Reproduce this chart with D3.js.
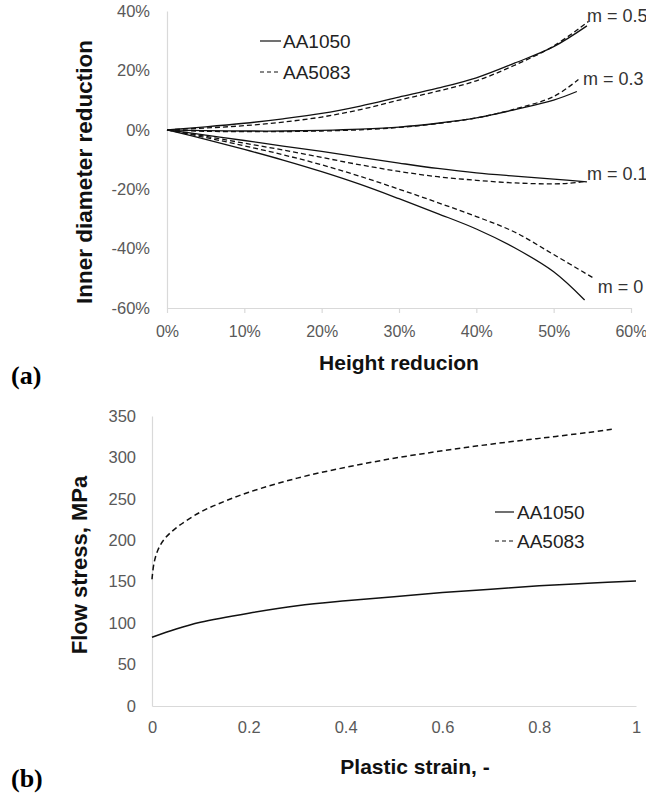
<!DOCTYPE html>
<html><head><meta charset="utf-8">
<script src="https://cdn.jsdelivr.net/npm/d3@7"></script>
<style>body{margin:0;background:#fff} svg{display:block}</style>
</head><body><svg id="c" width="646" height="801"></svg>
<script>
// ---------- Panel (a): inner diameter reduction vs height reduction (%) ----------
const xTicksA = [0, 10, 20, 30, 40, 50, 60];
const yTicksA = [-60, -40, -20, 0, 20, 40];
const hrBase = [0, 5, 10, 15, 20, 25, 30, 35, 40, 45, 50];

const m05_1050_x = [...hrBase, 54.3];
const m05_1050_y = [0, 1.0, 2.2, 3.7, 5.5, 8.0, 11.0, 14.0, 17.5, 22.5, 28.0, 35.0];
const m05_5083_x = [...hrBase, 54.5];
const m05_5083_y = [0, 0.6, 1.4, 2.6, 4.3, 6.8, 10.0, 13.0, 16.5, 21.8, 28.2, 36.5];
const m03_1050_x = [...hrBase, 53.0];
const m03_1050_y = [0, -0.3, -0.4, -0.4, -0.2, 0.2, 0.9, 2.2, 4.0, 6.8, 10.0, 12.9];
const m03_5083_x = [...hrBase, 53.2];
const m03_5083_y = [0, -0.5, -0.6, -0.6, -0.4, 0.0, 0.8, 2.1, 4.0, 7.0, 11.2, 16.9];
const m01_1050_x = [...hrBase, 54.3];
const m01_1050_y = [0, -1.8, -3.6, -5.5, -7.3, -9.3, -11.2, -13.0, -14.5, -15.6, -16.6, -17.5];
const m01_5083_x = [...hrBase, 52, 54.0];
const m01_5083_y = [0, -2.2, -4.5, -6.8, -9.3, -11.8, -14.0, -15.8, -17.0, -17.9, -18.2, -18.0, -17.4];
const m0_1050_x = [...hrBase, 54.0];
const m0_1050_y = [0, -3.2, -6.6, -10.2, -14.1, -18.4, -23.2, -28.2, -33.4, -39.8, -47.8, -57.3];
const m0_5083_x = [...hrBase, 55.2];
const m0_5083_y = [0, -2.6, -5.4, -8.4, -11.8, -15.7, -20.0, -24.5, -29.2, -34.5, -42.0, -50.0];

const mLabels = ["m = 0.5", "m = 0.3", "m = 0.1", "m = 0"];
const mLabelX = [54.3, 53.8, 54.3, 55.7];     // in data units (%)
const mLabelY = [36.4, 15.2, -16.9, -54.9];

// ---------- Panel (b): flow stress vs plastic strain ----------
const xTicksB = [0, 0.2, 0.4, 0.6, 0.8, 1];
const yTicksB = [0, 50, 100, 150, 200, 250, 300, 350];
const strain1050 = [0, 0.05, 0.1, 0.2, 0.3, 0.4, 0.5, 0.6, 0.7, 0.8, 0.9, 1.0];
const stress1050 = [83, 93, 101, 112, 121, 127, 132, 137, 141, 145, 148, 151];
const strain5083 = [0, 0.004, 0.012, 0.025, 0.05, 0.1, 0.15, 0.2, 0.3, 0.4, 0.5, 0.6, 0.7, 0.8, 0.9, 0.95];
const stress5083 = [153, 172, 188, 201, 215, 234, 247, 258, 275, 288, 299, 308, 316, 323, 330, 334];

const seriesNames = ["AA1050", "AA5083"];

// ---------- drawing ----------
const svg = d3.select("#c");
const FONT = "'Liberation Sans', Arial, sans-serif";
const tickCol = "#595959", axisCol = "#d9d9d9", lineCol = "#111";

function styleAxis(g, fs) {
  g.select(".domain").attr("stroke", axisCol).attr("stroke-width", 1.2);
  g.selectAll(".tick line").attr("stroke", axisCol).attr("stroke-width", 1.2);
  g.selectAll(".tick text").attr("fill", tickCol).style("font-family", FONT).style("font-size", fs + "px");
}
const smooth = d3.curveCatmullRom.alpha(0.5);

// Panel a
const xA = d3.scaleLinear().domain([0, 60]).range([167, 631]);
const yA = d3.scaleLinear().domain([-60, 40]).range([308, 11]);
const gxA = svg.append("g").attr("transform", `translate(0,${yA(-60)})`)
  .call(d3.axisBottom(xA).tickValues(xTicksA).tickFormat(d => d + "%").tickSize(5).tickPadding(13).tickSizeOuter(0));
styleAxis(gxA, 16);
// keep the last label ("60%") inside the picture edge
gxA.selectAll(".tick text").filter(d => d === xTicksA[xTicksA.length - 1]).attr("text-anchor", "end").attr("dx", "16");
const gyA = svg.append("g").attr("transform", `translate(${xA(0)},0)`)
  .call(d3.axisLeft(yA).tickValues(yTicksA).tickFormat(d => d + "%").tickSize(0).tickPadding(17));
styleAxis(gyA, 16.5);

const lineA = (xs, ys) => d3.line().x(i => xA(xs[i])).y(i => yA(ys[i])).curve(smooth)(d3.range(xs.length));
const curvesA = [
  [m05_1050_x, m05_1050_y, false], [m05_5083_x, m05_5083_y, true],
  [m03_1050_x, m03_1050_y, false], [m03_5083_x, m03_5083_y, true],
  [m01_1050_x, m01_1050_y, false], [m01_5083_x, m01_5083_y, true],
  [m0_1050_x, m0_1050_y, false], [m0_5083_x, m0_5083_y, true]
];
svg.append("g").selectAll("path").data(curvesA).join("path")
  .attr("d", d => lineA(d[0], d[1]))
  .attr("fill", "none").attr("stroke", lineCol).attr("stroke-width", 1.3)
  .attr("stroke-dasharray", d => d[2] ? "5,3" : null);

svg.append("g").selectAll("text").data(mLabels).join("text")
  .attr("x", (d, i) => xA(mLabelX[i])).attr("y", (d, i) => yA(mLabelY[i]))
  .attr("fill", "#333").style("font-family", FONT).style("font-size", "18px").text(d => d);

// legend a
const legA = svg.append("g");
seriesNames.forEach((n, i) => {
  const y = 41 + i * 31;
  legA.append("line").attr("x1", 260).attr("x2", 281).attr("y1", y).attr("y2", y)
    .attr("stroke", lineCol).attr("stroke-width", 1.2).attr("stroke-dasharray", i ? "4,3" : null);
  legA.append("text").attr("x", 283).attr("y", y + 7).attr("fill", "#222")
    .style("font-family", FONT).style("font-size", "19px").text(n);
});

svg.append("text").attr("transform", "translate(92,172) rotate(-90)").attr("text-anchor", "middle")
  .attr("fill", "#111").style("font-family", FONT).style("font-weight", "bold").style("font-size", "22.5px")
  .text("Inner diameter reduction");
svg.append("text").attr("x", 399).attr("y", 370).attr("text-anchor", "middle")
  .attr("fill", "#111").style("font-family", FONT).style("font-weight", "bold").style("font-size", "21px")
  .text("Height reducion");
svg.append("text").attr("x", 11).attr("y", 384)
  .attr("fill", "#000").style("font-family", "'Liberation Serif', 'Times New Roman', serif").style("font-weight", "bold").style("font-size", "26px")
  .text("(a)");

// Panel b
const xB = d3.scaleLinear().domain([0, 1]).range([152, 636]);
const yB = d3.scaleLinear().domain([0, 350]).range([706, 416]);
const gxB = svg.append("g").attr("transform", `translate(0,${yB(0)})`)
  .call(d3.axisBottom(xB).tickValues(xTicksB).tickFormat(d3.format("~g")).tickSize(0).tickPadding(15));
styleAxis(gxB, 16.5);
const gyB = svg.append("g").attr("transform", `translate(${xB(0)},0)`)
  .call(d3.axisLeft(yB).tickValues(yTicksB).tickSize(0).tickPadding(16));
styleAxis(gyB, 16.5);

const lineB = (xs, ys) => d3.line().x(i => xB(xs[i])).y(i => yB(ys[i])).curve(smooth)(d3.range(xs.length));
svg.append("path").attr("d", lineB(strain1050, stress1050))
  .attr("fill", "none").attr("stroke", lineCol).attr("stroke-width", 1.5);
svg.append("path").attr("d", lineB(strain5083, stress5083))
  .attr("fill", "none").attr("stroke", lineCol).attr("stroke-width", 1.5).attr("stroke-dasharray", "5.5,3.5");

const legB = svg.append("g");
seriesNames.forEach((n, i) => {
  const y = 512 + i * 29;
  legB.append("line").attr("x1", 495).attr("x2", 514).attr("y1", y).attr("y2", y)
    .attr("stroke", lineCol).attr("stroke-width", 1.2).attr("stroke-dasharray", i ? "4,3" : null);
  legB.append("text").attr("x", 517).attr("y", y + 7).attr("fill", "#222")
    .style("font-family", FONT).style("font-size", "19px").text(n);
});

svg.append("text").attr("transform", "translate(87,565) rotate(-90)").attr("text-anchor", "middle")
  .attr("fill", "#111").style("font-family", FONT).style("font-weight", "bold").style("font-size", "22px")
  .text("Flow stress, MPa");
svg.append("text").attr("x", 415).attr("y", 774).attr("text-anchor", "middle")
  .attr("fill", "#111").style("font-family", FONT).style("font-weight", "bold").style("font-size", "21px")
  .text("Plastic strain, -");
svg.append("text").attr("x", 11).attr("y", 787)
  .attr("fill", "#000").style("font-family", "'Liberation Serif', 'Times New Roman', serif").style("font-weight", "bold").style("font-size", "26px")
  .text("(b)");
</script></body></html>
